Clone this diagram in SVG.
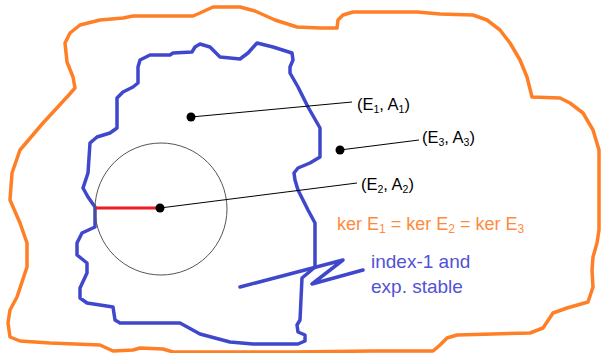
<svg xmlns="http://www.w3.org/2000/svg" width="601" height="353" viewBox="0 0 601 353">
<style>
.orange{fill:none;stroke:#FF7F27;stroke-width:3.5;stroke-linejoin:round;stroke-linecap:round}
.blue{fill:none;stroke:#3F48CC;stroke-width:3.5;stroke-linejoin:round;stroke-linecap:round}
.lead{stroke:#000;stroke-width:1;fill:none}
.dot{fill:#000}
.lbl{font-family:"Liberation Sans",Arial,sans-serif;font-size:16.5px;fill:#000}
.otxt{font-family:"Liberation Sans",Arial,sans-serif;font-size:18px;fill:#FF8A3D}
.btxt{font-family:"Liberation Sans",Arial,sans-serif;font-size:19px;fill:#5252D4}
.sub{font-size:10.5px}
.sub2{font-size:12px}
</style>
<rect width="601" height="353" fill="#fff"/>
<g id="region-orange">
<path class="orange" d="M67,97 L75,88 L73,77 L67,62 L65,43 L70,33 L80,25 L100,20 L123,18 L133,16 L193,16 L200,13 L213,7 L240,7 L255,11 L275,20 L297,27 L320,28 L337,28 L338,20 L343,15 L353,12 L400,12 L417,12 L440,14 L473,15 L487,20 L500,30 L510,43 L520,60 L527,77 L532,97 L560,98 L570,103 L583,113 L593,130 L599,150 L599,180 L599,230 L597,243 L593,257 L592,270 L593,287 L588,302 L567,308 L553,313 L547,322 L543,328 L530,333 L457,335 L447,338 L440,345 L433,351 L373,351 L293,352 L233,352 L173,352 L163,349 L140,348 L133,350 L113,351 L100,345 L50,343 L20,341 L10,337 L8,323 L10,310 L17,297 L27,267 L27,243 L20,223 L10,200 L12,173 L20,150 L43,123 Z"/>
</g>
<g id="region-blue">
<path class="blue" d="M88,173 L90,143 L97,137 L110,133 L117,128 L117,98 L123,92 L133,87 L138,83 L138,67 L140,60 L150,55 L170,55 L173,53 L192,52 L195,47 L200,44 L210,47 L220,57 L240,59 L248,53 L257,43 L273,47 L292,53 L293,60 L290,67 L290,73 L298,87 L308,107 L320,128 L320,157 L310,163 L298,168 L294,173 L295,180 L298,190 L308,210 L315,223 L315,267 L308,273 L302,278 L300,320 L297,325 L298,332 L305,335 L305,341 L298,344 L253,344 L230,342 L200,334 L180,323 L120,323 L115,320 L113,307 L87,303 L80,298 L80,288 L87,273 L87,263 L77,255 L77,243 L82,233 L95,227 L95,207 L88,197 L83,188 Z"/>
<path class="blue" d="M240,287 L343,260 L312,284 L363,270"/>
</g>
<g id="ball">
<circle cx="161" cy="209" r="66" fill="none" stroke="#555" stroke-width="1"/>
<line x1="96" y1="208" x2="160" y2="208" stroke="#ED1C24" stroke-width="3"/>
</g>
<g id="connectors">
<line class="lead" x1="191" y1="117" x2="352" y2="102"/>
<line class="lead" x1="340" y1="150" x2="419" y2="140"/>
<line class="lead" x1="160" y1="208" x2="357" y2="183"/>
</g>
<g id="node-E1A1">
<circle class="dot" cx="191" cy="117" r="4.5"/>
<text class="lbl" x="357" y="110">(E<tspan class="sub" dy="3">1</tspan><tspan dy="-3">, A</tspan><tspan class="sub" dy="3">1</tspan><tspan dy="-3">)</tspan></text>
</g>
<g id="node-E3A3">
<circle class="dot" cx="340" cy="150" r="4.5"/>
<text class="lbl" x="422" y="143">(E<tspan class="sub" dy="3">3</tspan><tspan dy="-3">, A</tspan><tspan class="sub" dy="3">3</tspan><tspan dy="-3">)</tspan></text>
</g>
<g id="node-E2A2">
<circle class="dot" cx="160" cy="208" r="4.5"/>
<text class="lbl" x="361" y="190">(E<tspan class="sub" dy="3">2</tspan><tspan dy="-3">, A</tspan><tspan class="sub" dy="3">2</tspan><tspan dy="-3">)</tspan></text>
</g>
<g id="label-ker">
<text class="otxt" x="337" y="230">ker E<tspan class="sub2" dy="3">1</tspan><tspan dy="-3"> = ker E</tspan><tspan class="sub2" dy="3">2</tspan><tspan dy="-3"> = ker E</tspan><tspan class="sub2" dy="3">3</tspan></text>
</g>
<g id="label-index">
<text class="btxt" x="371" y="268">index-1 and</text>
<text class="btxt" x="371" y="293">exp. stable</text>
</g>
</svg>
